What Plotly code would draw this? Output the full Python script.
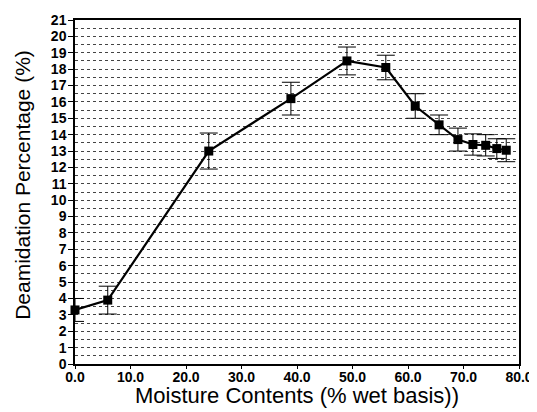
import plotly.graph_objects as go

moisture = [0.0, 5.9, 24.1, 38.9, 49.0, 56.0, 61.3, 65.6, 69.0, 71.7, 74.0, 76.0, 77.7]
deamidation = [3.3, 3.9, 13.0, 16.2, 18.5, 18.1, 15.75, 14.6, 13.7, 13.4, 13.35, 13.15, 13.05]
err = [0.7, 0.85, 1.1, 1.0, 0.85, 0.75, 0.75, 0.6, 0.7, 0.65, 0.65, 0.6, 0.7]

x_ticks = [0, 10, 20, 30, 40, 50, 60, 70, 80]
y_ticks = list(range(0, 22))

font = "Liberation Sans, Arial, Helvetica, sans-serif"

fig = go.Figure()
fig.add_trace(
    go.Scatter(
        x=moisture,
        y=deamidation,
        mode="lines+markers",
        line=dict(color="black", width=2.2),
        marker=dict(symbol="square", size=9, color="black"),
        error_y=dict(type="data", array=err, visible=True,
                     color="black", thickness=1, width=9),
        cliponaxis=False,
    )
)

# page body has an 8px margin, so the plot area is shifted back by that much
fig.update_layout(
    width=537,
    height=412,
    showlegend=False,
    plot_bgcolor="white",
    paper_bgcolor="white",
    margin=dict(l=67, r=26, t=12, b=56),
    font=dict(family=font, color="black"),
    xaxis=dict(
        range=[0, 80],
        automargin=False,
        tickvals=x_ticks,
        ticktext=[f"<b>{v:.1f}</b>" for v in x_ticks],
        ticks="outside",
        ticklen=3,
        tickwidth=1,
        tickcolor="black",
        tickfont=dict(size=14, family=font),
        ticklabelstandoff=-4,
        showline=True,
        linecolor="black",
        linewidth=1.5,
        mirror=True,
        showgrid=False,
        zeroline=False,
    ),
    yaxis=dict(
        range=[0, 21],
        automargin=False,
        tickvals=y_ticks,
        ticktext=[f"<b>{v}</b>" for v in y_ticks],
        ticks="outside",
        ticklen=5,
        tickwidth=1,
        tickcolor="black",
        tickfont=dict(size=14, family=font),
        ticklabelstandoff=-1,
        showline=True,
        linecolor="black",
        linewidth=1.5,
        mirror=True,
        showgrid=True,
        gridcolor="#444444",
        gridwidth=1,
        griddash="dot",
        zeroline=False,
        minor=dict(dtick=0.5, showgrid=True, gridcolor="#444444",
                   griddash="dot", gridwidth=1, ticks=""),
    ),
    annotations=[
        dict(text="Moisture Contents (% wet basis))", xref="paper", yref="paper",
             x=0.5, y=-0.092, xanchor="center", yanchor="middle", showarrow=False,
             font=dict(size=22, family=font)),
        dict(text="Deamidation Percentage (%)", xref="paper", yref="paper",
             x=-0.12, y=0.52, xanchor="center", yanchor="middle", showarrow=False,
             textangle=-90, font=dict(size=21, family=font)),
    ],
)

fig.write_html("out.html")
